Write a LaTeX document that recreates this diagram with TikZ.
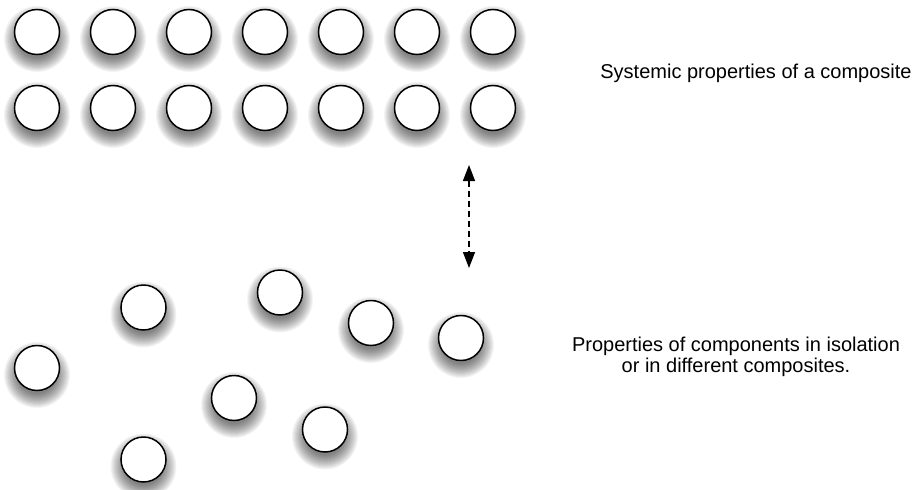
\documentclass[tikz,border=0pt]{standalone}
\usepackage{fontspec}
\setmainfont{Liberation Sans}
\usetikzlibrary{arrows.meta}

\pgfdeclarelayer{shade}
\pgfsetlayers{shade,main}

\tikzset{
  ball/.style={circle, draw=black, line width=1.5pt, fill=white,
    minimum size=45pt, inner sep=0pt},
  halo/.style={fill=black, fill opacity=0.045, draw=none},
  caption/.style={font=\fontsize{20}{21.7}\selectfont, align=center,
    anchor=base, inner sep=0pt},
  link/.style={line width=1.4pt, dash pattern=on 6pt off 4pt,
    {Triangle[length=16pt,width=12pt]}-{Triangle[length=16pt,width=12pt]}}
}

\begin{document}
\begin{tikzpicture}[x=1pt,y=-1pt]
  \useasboundingbox (0,0) rectangle (916,490);

  % the composite: two tight rows of components
  \foreach \i/\x in {1/37,2/113,3/189,4/265,5/341,6/417,7/493} {
    \node[ball] (t\i) at (\x,32) {};
    \node[ball] (b\i) at (\x,108) {};
  }

  % loose components, scattered
  \node[ball] (s1) at (37,368) {};
  \node[ball] (s2) at (143.5,307.5) {};
  \node[ball] (s3) at (143.5,459.5) {};
  \node[ball] (s4) at (234,398) {};
  \node[ball] (s5) at (280,292.5) {};
  \node[ball] (s6) at (371,323) {};
  \node[ball] (s7) at (325,429.5) {};
  \node[ball] (s8) at (461,338) {};

  % soft drop shadows under every component
  \begin{pgfonlayer}{shade}
    \foreach \n in {t1,t2,t3,t4,t5,t6,t7,b1,b2,b3,b4,b5,b6,b7,
                    s1,s2,s3,s4,s5,s6,s7,s8} {
      \foreach \r in {19,20,...,33} {
        \fill[halo, shift={(\n)}] (0,7) circle[radius=\r];
      }
    }
  \end{pgfonlayer}

  % two-way relation between the two situations
  \coordinate (up) at (469,165);
  \coordinate (down) at (469,268);
  \draw[link] (up) -- (down);

  % captions
  \node[caption] (sys) at (756,78) {Systemic properties of a composite};
  \node[caption, anchor=north] (iso) at (736,336.5)
    {Properties of components in isolation\\or in different composites.};
\end{tikzpicture}
\end{document}
